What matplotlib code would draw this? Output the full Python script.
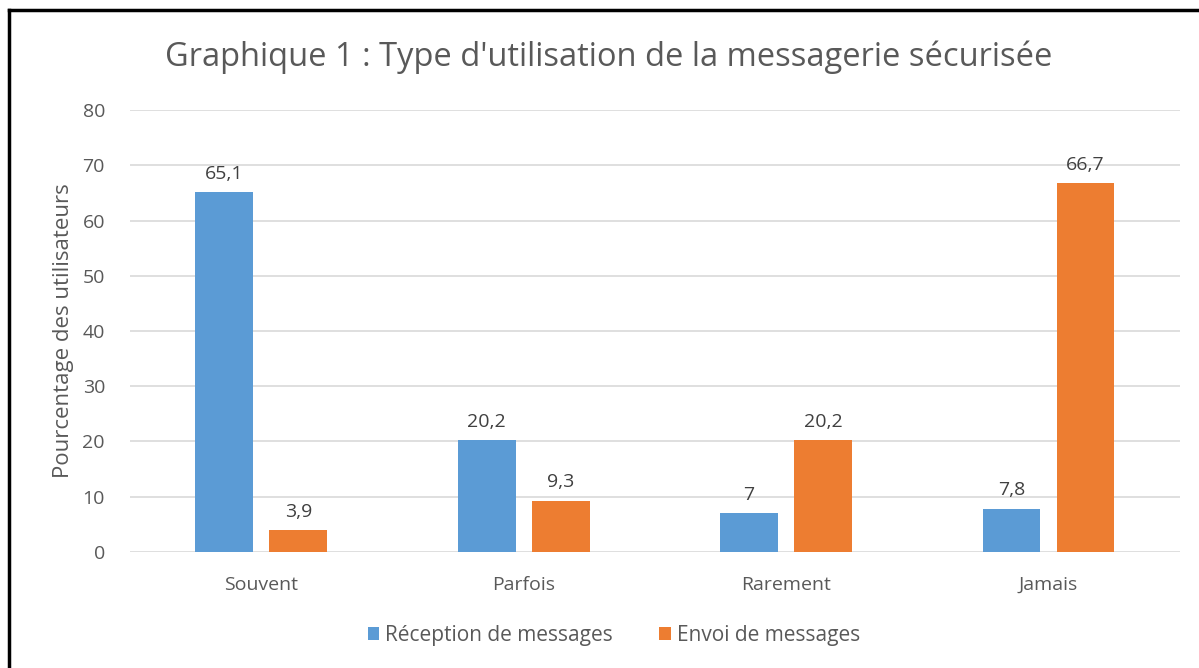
import numpy as np
from matplotlib import pyplot as plt
from matplotlib.lines import Line2D

categories = ['Souvent', 'Parfois', 'Rarement', 'Jamais']
reception = [65.1, 20.2, 7, 7.8]
envoi = [3.9, 9.3, 20.2, 66.7]
labels_reception = ['65,1', '20,2', '7', '7,8']
labels_envoi = ['3,9', '9,3', '20,2', '66,7']
yticks = [0, 10, 20, 30, 40, 50, 60, 70, 80]

plt.rcParams['font.family'] = ['Open Sans', 'DejaVu Sans']

fig = plt.figure(figsize=(11.99, 6.68), dpi=100)
ax = fig.add_axes([0.1084, 0.1737, 0.8756, 0.6616])

x = np.arange(len(categories))
w = 0.22
b1 = ax.bar(x - 0.141, reception, w, color='#5B9BD5', zorder=3)
b2 = ax.bar(x + 0.141, envoi, w, color='#ED7D31', zorder=3)

for bar, lab in zip(b1, labels_reception):
    ax.annotate(lab, (bar.get_x() + bar.get_width() / 2, bar.get_height()),
                xytext=(0, 7), textcoords='offset points', ha='center', va='bottom',
                fontsize=14, color='#404040')
for bar, lab in zip(b2, labels_envoi):
    ax.annotate(lab, (bar.get_x() + bar.get_width() / 2, bar.get_height()),
                xytext=(0, 7), textcoords='offset points', ha='center', va='bottom',
                fontsize=14, color='#404040')

ax.set_xlim(-0.5, 3.5)
ax.set_ylim(0, 80)
ax.set_yticks(yticks)
ax.set_xticks(x)
ax.set_xticklabels(categories)
ax.tick_params(axis='both', length=0, labelsize=14, colors='#595959')
ax.tick_params(axis='y', pad=18)
ax.tick_params(axis='x', pad=17)
ax.grid(axis='y', color='#D9D9D9', linewidth=1.2, zorder=0)
for s in ax.spines.values():
    s.set_visible(False)

ax.set_ylabel('Pourcentage des utilisateurs', fontsize=16, color='#595959', labelpad=6)

fig.text(0.508, 0.915, "Graphique 1 : Type d'utilisation de la messagerie sécurisée",
         ha='center', va='center', fontsize=23.5, color='#595959')

leg = fig.legend([b1, b2], ['Réception de messages', 'Envoi de messages'],
                 loc='center', bbox_to_anchor=(0.512, 0.049), ncol=2, frameon=False,
                 fontsize=15, handlelength=0.55, handleheight=0.55, handletextpad=0.3,
                 columnspacing=2.2)
for t in leg.get_texts():
    t.set_color('#595959')

# border on left and top like the source
fig.add_artist(Line2D([0.0075, 0.0075], [0, 0.985], color='black', linewidth=2.5,
                      transform=fig.transFigure))
fig.add_artist(Line2D([0.0075, 1], [0.985, 0.985], color='black', linewidth=2.5,
                      transform=fig.transFigure))

fig.savefig('out.png', dpi=100)
